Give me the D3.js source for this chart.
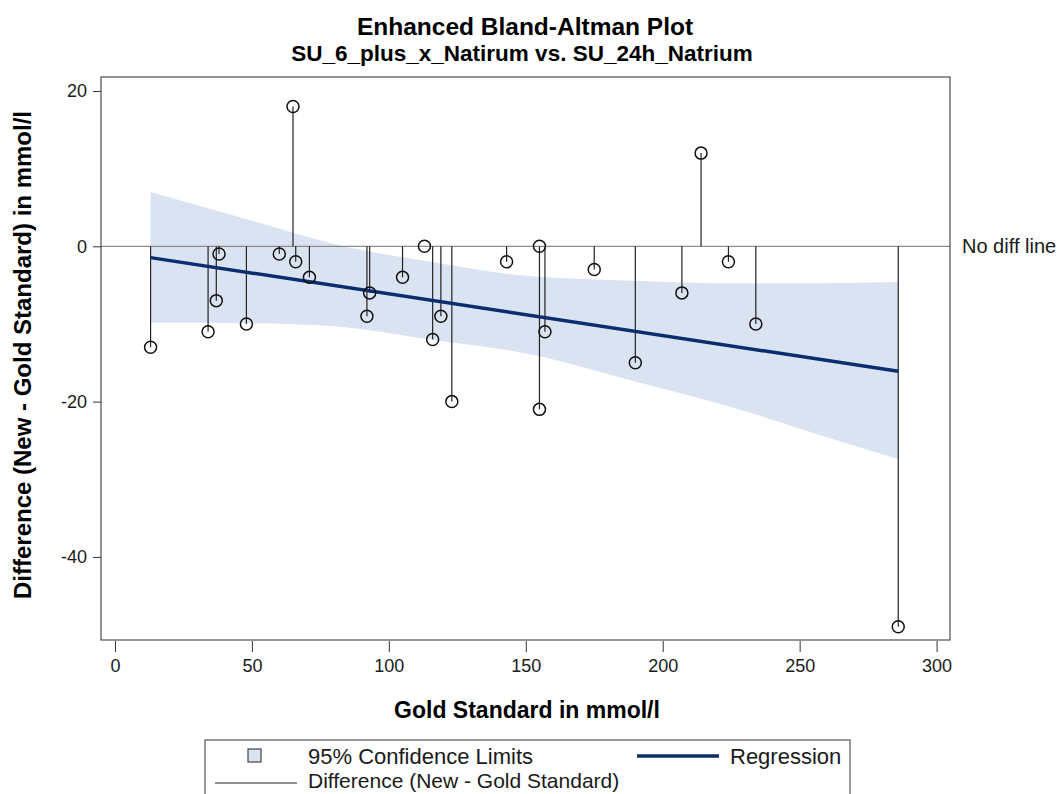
<!DOCTYPE html>
<html>
<head>
<meta charset="utf-8">
<script src="https://cdn.jsdelivr.net/npm/d3@7"></script>
<style>
  html, body { margin: 0; padding: 0; background: #fff; }
  svg { display: block; font-family: "Liberation Sans", Arial, sans-serif; }
</style>
</head>
<body>
<svg id="chart" width="1064" height="794"></svg>
<script>
// ---- data ----
const goldStandard = [13, 34, 37, 38, 48, 60, 65, 66, 71, 92, 93, 105, 113, 116, 119, 123, 143, 155, 155, 157, 175, 190, 207, 214, 224, 234, 286];
const difference   = [-13, -11, -7, -1, -10, -1, 18, -2, -4, -9, -6, -4, 0, -12, -9, -20, -2, 0, -21, -11, -3, -15, -6, 12, -2, -10, -49];

const regressionX = [13, 286];
const regressionY = [-1.46, -16.1];

const bandX     = [13, 50, 80, 115, 150, 190, 225, 260, 286];
const bandUpper = [7.0, 3.3, 0.3, -2.0, -3.8, -4.45, -4.8, -4.75, -4.6];
const bandLower = [-9.85, -9.9, -10.3, -12.0, -13.8, -17.4, -20.7, -24.6, -27.4];

const xTicks = [0, 50, 100, 150, 200, 250, 300];
const yTicks = [-40, -20, 0, 20];

const titleText = "Enhanced Bland-Altman Plot";
const subtitleText = "SU_6_plus_x_Natirum vs. SU_24h_Natrium";
const xLabel = "Gold Standard in mmol/l";
const yLabel = "Difference (New - Gold Standard) in mmol/l";
const refLabel = "No diff line";
const legendLabels = ["95% Confidence Limits", "Regression", "Difference (New - Gold Standard)"];

// ---- layout ----
const frame = { left: 101, right: 950, top: 77, bottom: 640 };
const bandColor = "#dae3f1";
const regColor = "#0a2d6e";
const textColor = "#1a1a1a";

const svg = d3.select("#chart");

const x = d3.scaleLinear().domain([-5.1, 304.9]).range([frame.left, frame.right]);
const y = d3.scaleLinear().domain([-50.7, 21.8]).range([frame.bottom, frame.top]);

// titles
svg.append("text").attr("x", 525).attr("y", 35).attr("text-anchor", "middle")
  .attr("font-weight", "bold").attr("font-size", 24.5).attr("fill", "#000").text(titleText);
svg.append("text").attr("x", 522).attr("y", 61).attr("text-anchor", "middle")
  .attr("font-weight", "bold").attr("font-size", 22.5).attr("fill", "#000").text(subtitleText);

// clip for plot area
svg.append("clipPath").attr("id", "plotclip").append("rect")
  .attr("x", frame.left).attr("y", frame.top)
  .attr("width", frame.right - frame.left).attr("height", frame.bottom - frame.top);

const plot = svg.append("g").attr("clip-path", "url(#plotclip)");

// confidence band
const bandData = bandX.map((d, i) => ({ x: d, lo: bandLower[i], hi: bandUpper[i] }));
plot.append("path")
  .datum(bandData)
  .attr("fill", bandColor)
  .attr("d", d3.area().x(d => x(d.x)).y0(d => y(d.lo)).y1(d => y(d.hi)).curve(d3.curveMonotoneX));

// zero line
plot.append("line")
  .attr("x1", frame.left).attr("x2", frame.right)
  .attr("y1", y(0)).attr("y2", y(0))
  .attr("stroke", "#8c8c8c").attr("stroke-width", 1.2);

// stems
const pts = goldStandard.map((g, i) => ({ g, d: difference[i] }));
plot.selectAll("line.stem").data(pts).enter().append("line")
  .attr("class", "stem")
  .attr("x1", d => x(d.g)).attr("x2", d => x(d.g))
  .attr("y1", y(0)).attr("y2", d => y(d.d))
  .attr("stroke", "#222").attr("stroke-width", 1.2);

// regression
plot.append("path")
  .datum(regressionX.map((d, i) => [d, regressionY[i]]))
  .attr("fill", "none").attr("stroke", regColor).attr("stroke-width", 3.5)
  .attr("d", d3.line().x(d => x(d[0])).y(d => y(d[1])));

// points
plot.selectAll("circle.pt").data(pts).enter().append("circle")
  .attr("class", "pt")
  .attr("cx", d => x(d.g)).attr("cy", d => y(d.d)).attr("r", 6)
  .attr("fill", "none").attr("stroke", "#111").attr("stroke-width", 1.5);

// frame
svg.append("rect")
  .attr("x", frame.left).attr("y", frame.top)
  .attr("width", frame.right - frame.left).attr("height", frame.bottom - frame.top)
  .attr("fill", "none").attr("stroke", "#4d4d4d").attr("stroke-width", 1.2);

// axes
const fmt = d => String(d);
const xAxis = svg.append("g").attr("transform", `translate(0,${frame.bottom + 1})`)
  .call(d3.axisBottom(x).tickValues(xTicks).tickFormat(fmt).tickSize(11).tickSizeOuter(0).tickPadding(7));
xAxis.select(".domain").remove();
xAxis.selectAll("line").attr("stroke", "#333");
xAxis.selectAll("text").attr("font-size", 18).attr("fill", textColor).attr("font-family", "Liberation Sans, Arial, sans-serif");

const yAxis = svg.append("g").attr("transform", `translate(${frame.left},0)`)
  .call(d3.axisLeft(y).tickValues(yTicks).tickFormat(fmt).tickSize(8).tickSizeOuter(0).tickPadding(6));
yAxis.select(".domain").remove();
yAxis.selectAll("line").attr("stroke", "#333");
yAxis.selectAll("text").attr("font-size", 18).attr("fill", textColor).attr("font-family", "Liberation Sans, Arial, sans-serif");

// axis labels
svg.append("text").attr("x", 527).attr("y", 718).attr("text-anchor", "middle")
  .attr("font-weight", "bold").attr("font-size", 23).attr("fill", "#000").text(xLabel);
svg.append("text").attr("transform", `translate(31,355) rotate(-90)`)
  .attr("text-anchor", "middle").attr("font-weight", "bold").attr("font-size", 24).attr("fill", "#000").text(yLabel);

// reference label
svg.append("text").attr("x", 962).attr("y", y(0) + 7).attr("font-size", 20).attr("fill", textColor).text(refLabel);

// legend
const lg = svg.append("g");
lg.append("rect").attr("x", 205).attr("y", 740).attr("width", 645).attr("height", 70)
  .attr("fill", "#fff").attr("stroke", "#555").attr("stroke-width", 1.2);
lg.append("rect").attr("x", 248).attr("y", 749).attr("width", 13).attr("height", 13)
  .attr("fill", bandColor).attr("stroke", "#444").attr("stroke-width", 1.2);
lg.append("text").attr("x", 308).attr("y", 764).attr("font-size", 22).attr("fill", textColor).text(legendLabels[0]);
lg.append("line").attr("x1", 637).attr("x2", 719).attr("y1", 756).attr("y2", 756)
  .attr("stroke", regColor).attr("stroke-width", 3.5);
lg.append("text").attr("x", 730).attr("y", 764).attr("font-size", 22).attr("fill", textColor).text(legendLabels[1]);
lg.append("line").attr("x1", 215).attr("x2", 297).attr("y1", 783).attr("y2", 783)
  .attr("stroke", "#222").attr("stroke-width", 1.2);
lg.append("text").attr("x", 308).attr("y", 788).attr("font-size", 21).attr("fill", textColor).text(legendLabels[2]);
</script>
</body>
</html>
